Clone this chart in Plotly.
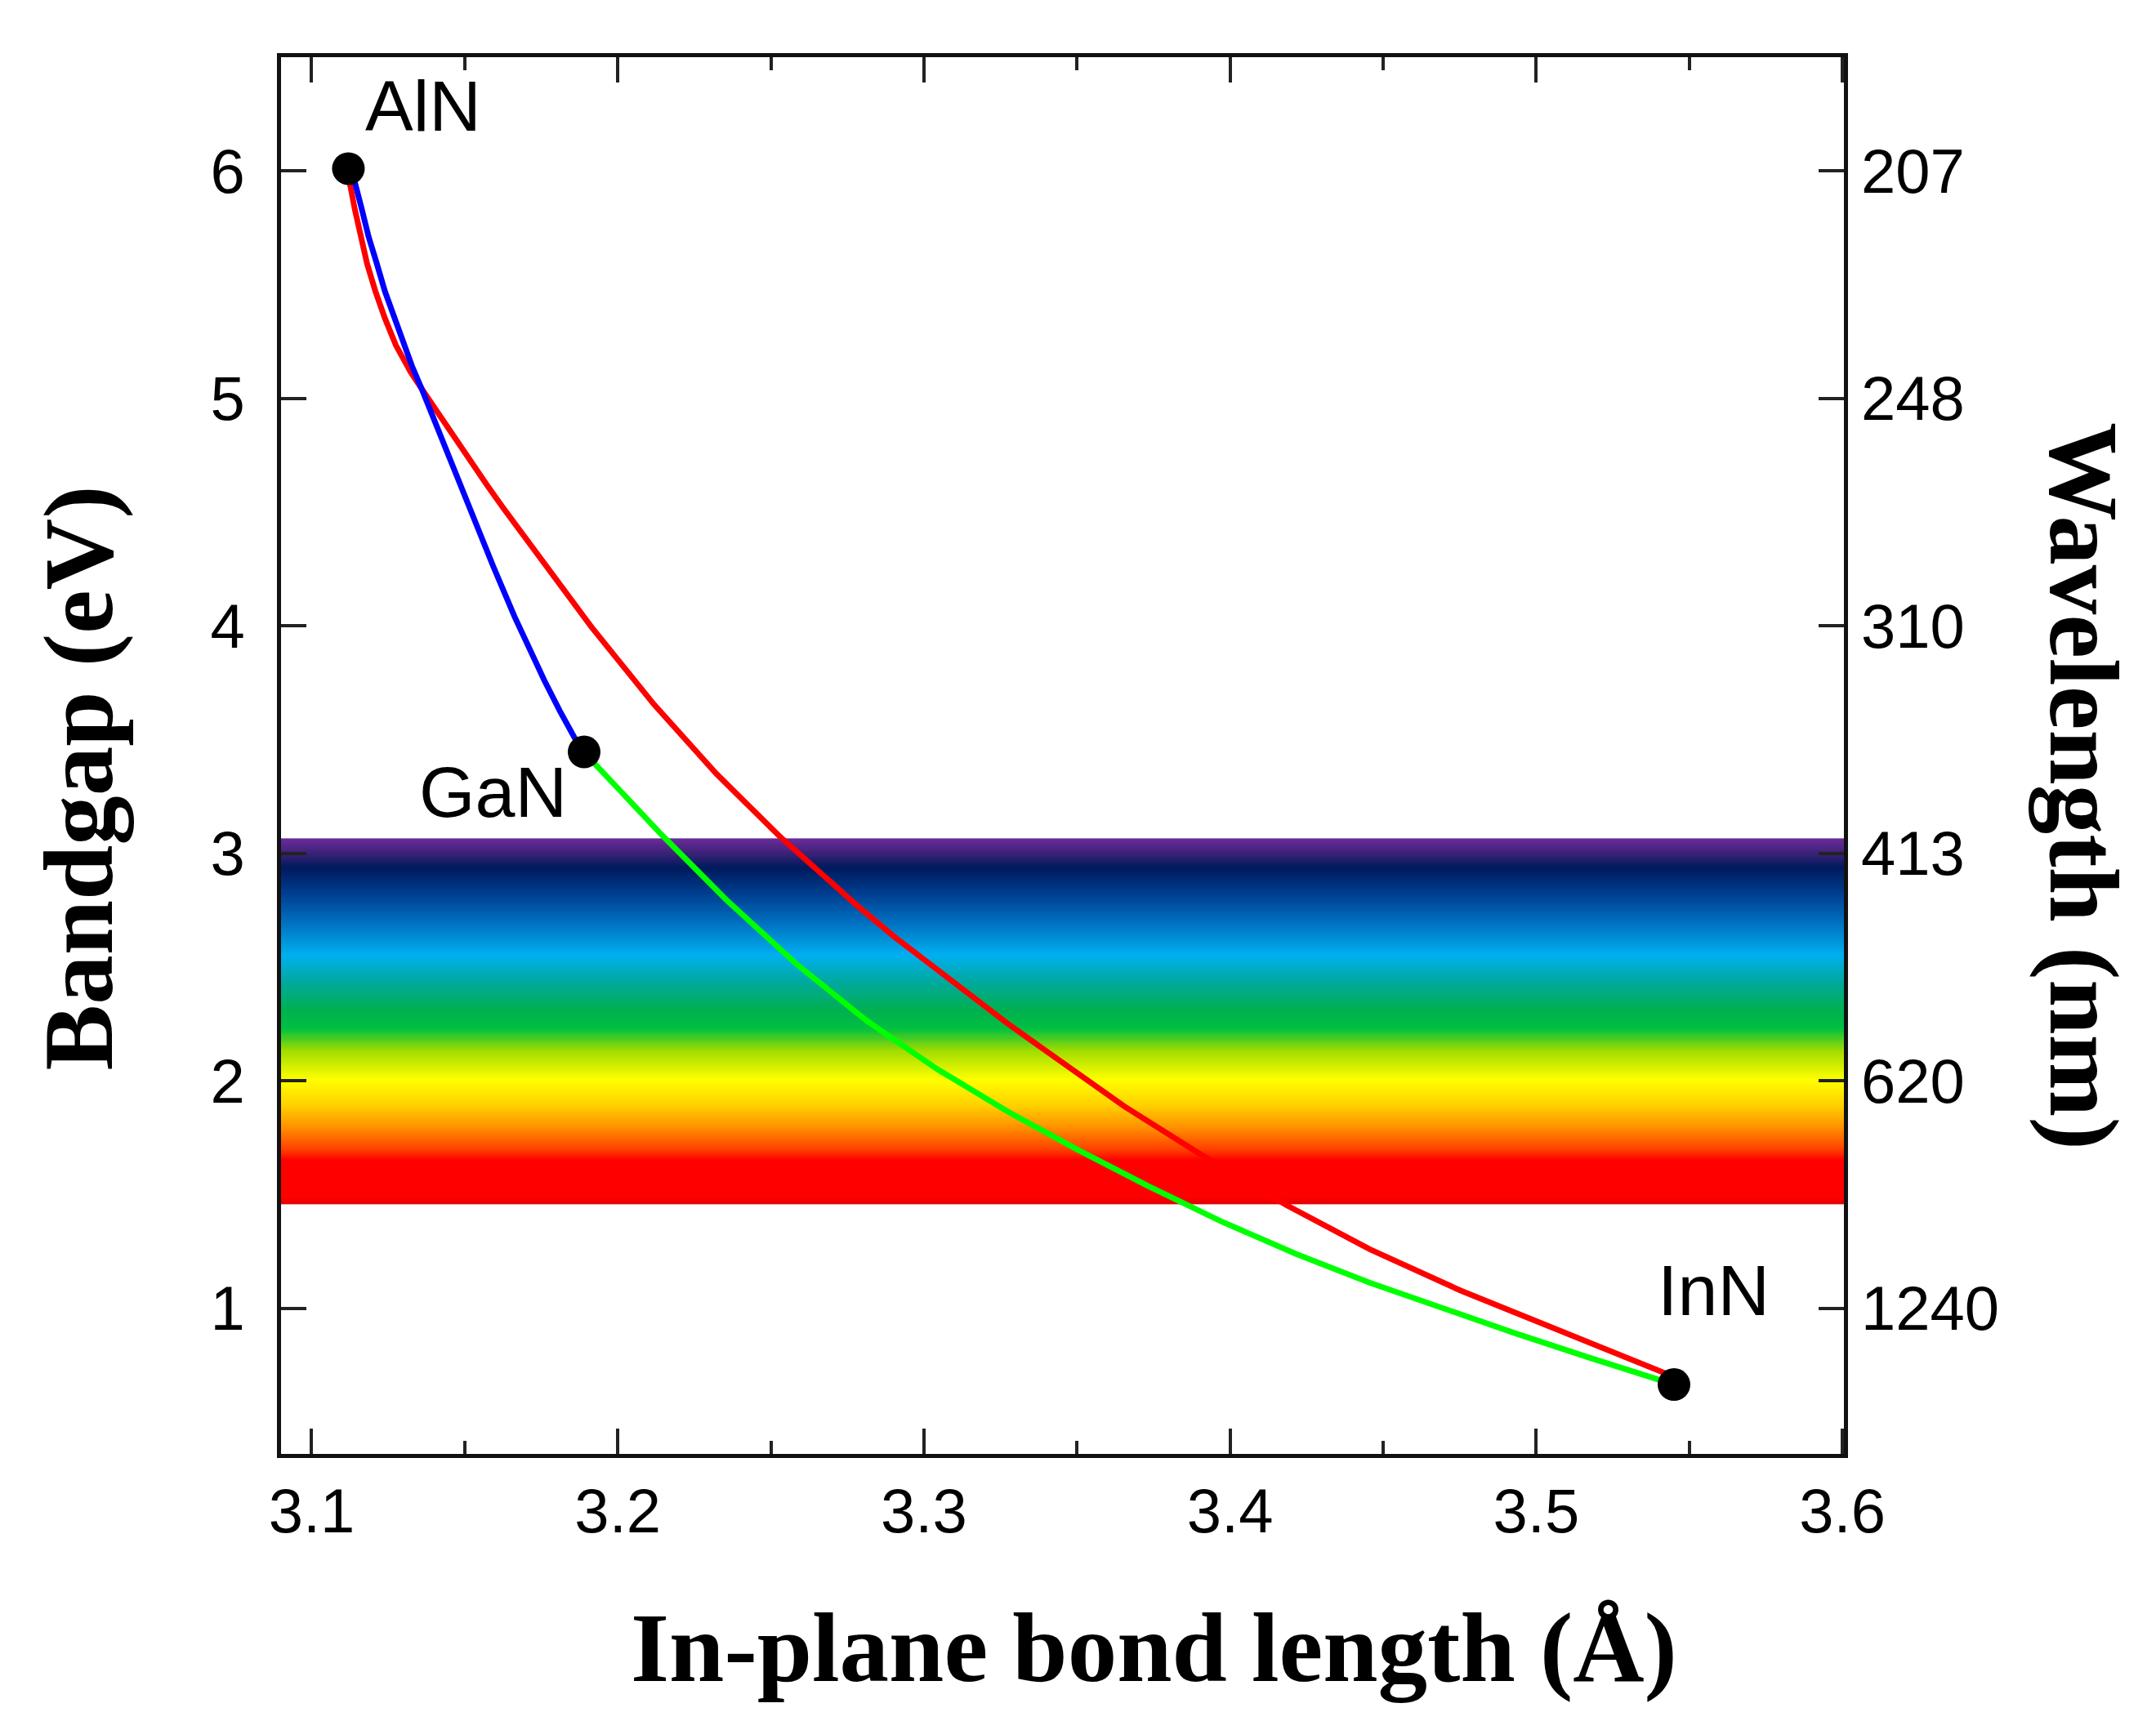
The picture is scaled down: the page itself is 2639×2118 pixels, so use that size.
import numpy as np
import plotly.graph_objects as go

# end members: (bond length in Å, bandgap in eV)
compound_names = ["AlN", "GaN", "InN"]
compound_x = [3.112, 3.189, 3.545]
compound_y = [6.01, 3.446, 0.665]

# AlGaN (blue)
algan_x = [3.112, 3.1141, 3.1164, 3.1186, 3.1213, 3.1239, 3.1271, 3.1302,
           3.1329, 3.1360, 3.1391, 3.1427, 3.1463, 3.1499, 3.1530, 3.1570,
           3.1593, 3.1663, 3.1710, 3.1760, 3.1811, 3.1862, 3.189]
algan_y = [6.01, 5.951, 5.831, 5.711, 5.592, 5.472, 5.353, 5.234,
           5.138, 5.040, 4.937, 4.817, 4.698, 4.578, 4.470, 4.330,
           4.262, 4.040, 3.900, 3.760, 3.625, 3.500, 3.446]

# AlInN (red)
alinn_x = [3.112, 3.1124, 3.1141, 3.1159, 3.1181, 3.1208, 3.1239, 3.1275,
           3.1324, 3.1368, 3.1421, 3.1466, 3.1519, 3.1572, 3.1626, 3.1679,
           3.1732, 3.1914, 3.2118, 3.2322, 3.2527, 3.2782, 3.2903, 3.3272,
           3.3654, 3.3914, 3.4182, 3.4456, 3.4753, 3.5051, 3.5229, 3.5395,
           3.545]
alinn_y = [6.01, 5.951, 5.831, 5.711, 5.592, 5.472, 5.353, 5.234,
           5.114, 5.025, 4.918, 4.827, 4.722, 4.620, 4.518, 4.420,
           4.322, 3.995, 3.655, 3.350, 3.077, 2.770, 2.634, 2.253,
           1.888, 1.668, 1.455, 1.260, 1.078, 0.914, 0.817, 0.728,
           0.699]

# InGaN (green)
ingan_x = [3.189, 3.1925, 3.2140, 3.2354, 3.2583, 3.2813, 3.3043, 3.3272,
           3.3501, 3.3730, 3.3970, 3.4216, 3.4455, 3.4693, 3.4930, 3.5169,
           3.5383, 3.545]
ingan_y = [3.446, 3.394, 3.086, 2.796, 2.514, 2.264, 2.052, 1.866,
           1.698, 1.539, 1.383, 1.239, 1.113, 0.999, 0.891, 0.785,
           0.691, 0.665]

# visible band (eV)
band_lo, band_hi = 1.457, 3.066

# right axis: wavelength labels at bandgap positions
wl_tickvals = [1, 2, 3, 4, 5, 6]
wl_ticktext = ["1240", "620", "413", "310", "248", "207"]

x_range = [3.09, 3.6005]
y_range = [0.36, 6.5]

spectrum = [
    [0.00, "#E00000"], [0.02, "#FF0000"], [0.12, "#FF0000"], [0.15, "#FF4000"],
    [0.21, "#FF9000"], [0.27, "#FFD000"], [0.34, "#FFFF00"], [0.42, "#A0DC00"],
    [0.48, "#00C040"], [0.53, "#00B050"], [0.61, "#00A9A0"], [0.68, "#00B0F0"],
    [0.77, "#0070C0"], [0.85, "#003D8F"], [0.92, "#001A5C"], [0.97, "#4A2480"],
    [1.00, "#6B2C9B"],
]

sans = "Liberation Sans, Arial, sans-serif"
serif = "Liberation Serif, Times New Roman, serif"

fig = go.Figure()

# rainbow band as a thin-row heatmap
edges = np.linspace(band_lo, band_hi, 401)
mids = (edges[:-1] + edges[1:]) / 2
fig.add_trace(go.Heatmap(
    x=x_range, y=edges, z=mids.reshape(-1, 1),
    colorscale=spectrum, zmin=band_lo, zmax=band_hi,
    showscale=False, hoverinfo="skip",
))

for xs, ys, col in [(alinn_x, alinn_y, "#FF0000"),
                    (algan_x, algan_y, "#0000FF"),
                    (ingan_x, ingan_y, "#00FF00")]:
    fig.add_trace(go.Scatter(
        x=xs, y=ys, mode="lines",
        line=dict(color=col, width=7),
        showlegend=False,
    ))

fig.add_trace(go.Scatter(
    x=compound_x, y=compound_y, mode="markers",
    marker=dict(color="black", size=40), showlegend=False,
))

# hidden trace just to bring up the right axis
fig.add_trace(go.Scatter(x=[x_range[0]], y=[y_range[0]], yaxis="y2",
                         mode="markers", marker=dict(opacity=0),
                         showlegend=False, hoverinfo="skip"))

label_pos = [(3.1363, 6.285), (3.1592, 3.27), (3.558, 1.08)]
for name, (lx, ly) in zip(compound_names, label_pos):
    fig.add_annotation(x=lx, y=ly, text=name, showarrow=False,
                       font=dict(family=sans, size=88, color="black"))

title_font = dict(family=serif, size=121, color="black", weight="bold")
fig.add_annotation(xref="paper", yref="paper", x=0.5588, y=-0.1796,
                   text="In-plane bond length (Å)", showarrow=False,
                   font=title_font)
fig.add_annotation(xref="paper", yref="paper", x=-0.1657, y=0.4836,
                   text="Bandgap (eV)", textangle=-90, showarrow=False,
                   font=title_font)
fig.add_annotation(xref="paper", yref="paper", x=1.1898, y=0.478,
                   text="Wavelength (nm)", textangle=90, showarrow=False,
                   font=title_font)

tick_font = dict(family=sans, size=76, color="black")

fig.update_layout(
    width=2639, height=2118,
    margin=dict(l=336, r=390, t=62, b=346),
    plot_bgcolor="white", paper_bgcolor="white",
    showlegend=False,
    xaxis=dict(
        range=x_range, tickvals=[3.1, 3.2, 3.3, 3.4, 3.5, 3.6],
        ticktext=["3.1", "3.2", "3.3", "3.4", "3.5", "3.6"],
        ticks="inside", ticklen=31, tickwidth=4, tickcolor="#222",
        minor=dict(dtick=0.05, tick0=3.1, ticks="inside", ticklen=16,
                   tickwidth=4, tickcolor="#222"),
        showline=True, linecolor="#111", linewidth=5, mirror="ticks",
        showgrid=False, zeroline=False, tickfont=tick_font,
        ticklabelstandoff=0,
    ),
    yaxis=dict(
        range=y_range, tickvals=[1, 2, 3, 4, 5, 6],
        ticks="inside", ticklen=31, tickwidth=4, tickcolor="#222",
        showline=True, linecolor="#111", linewidth=5, mirror=True,
        showgrid=False, zeroline=False, tickfont=tick_font,
        ticklabelstandoff=24,
    ),
    yaxis2=dict(
        range=y_range, overlaying="y", side="right",
        tickvals=wl_tickvals, ticktext=wl_ticktext,
        ticks="inside", ticklen=31, tickwidth=4, tickcolor="#222",
        showline=False, showgrid=False, zeroline=False, tickfont=tick_font,
        ticklabelstandoff=20,
    ),
)

fig.write_html("out.html")
